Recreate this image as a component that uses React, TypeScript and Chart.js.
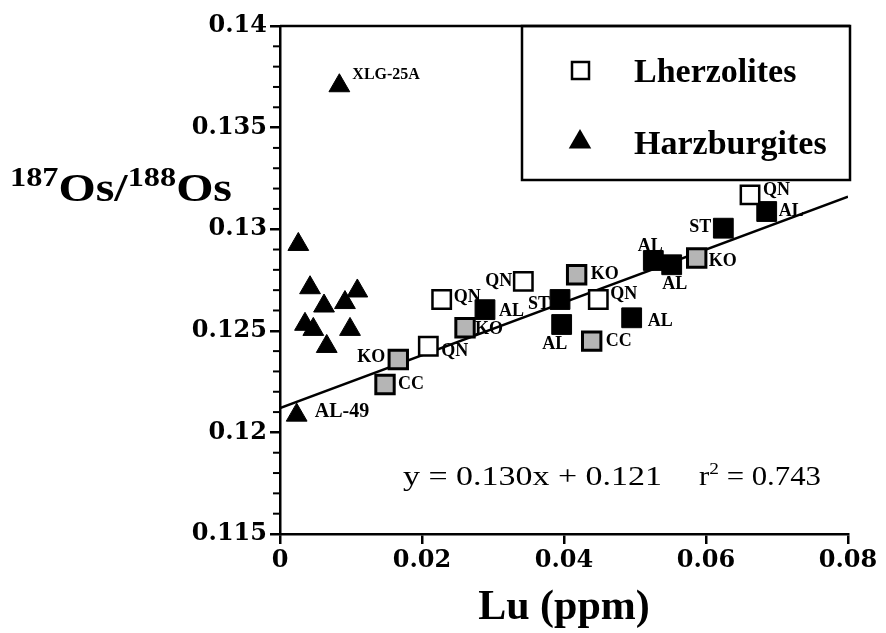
import { useEffect, useRef } from 'react';
import { Chart, registerables } from 'chart.js';

Chart.register(...registerables);

// ---- data ----
// Lherzolites (open squares, this study)
const lherzX = [0.02089, 0.02277, 0.03427, 0.04483, 0.0662];
const lherzY = [0.12424, 0.12654, 0.12743, 0.12654, 0.13169];
const lherzLabels = ['QN', 'QN', 'QN', 'QN', 'QN'];

// Black filled squares
const blackX = [0.02887, 0.03944, 0.03967, 0.04953, 0.05258, 0.05517, 0.06244, 0.06855];
const blackY = [0.12604, 0.12654, 0.12531, 0.12564, 0.12846, 0.12825, 0.13005, 0.13087];
const blackLabels = ['AL', 'ST', 'AL', 'AL', 'AL', 'AL', 'ST', 'AL'];

// Grey stippled squares
const greyX = [0.01666, 0.01479, 0.02606, 0.04178, 0.0439, 0.05869];
const greyY = [0.12359, 0.12236, 0.12515, 0.12776, 0.12449, 0.12858];
const greyLabels = ['KO', 'CC', 'KO', 'KO', 'CC', 'KO'];

// Harzburgites (filled triangles)
const harzX = [0.00836, 0.00258, 0.00423, 0.0062, 0.00915, 0.01089, 0.00352, 0.00469, 0.00986, 0.00658, 0.00235];
const harzY = [0.13706, 0.12925, 0.12712, 0.12622, 0.12639, 0.12696, 0.12532, 0.12507, 0.12507, 0.12423, 0.12085];
const harzLabels = ['XLG-25A', '', '', '', '', '', '', '', '', '', 'AL-49'];

// regression line end points
const fitX = [0, 0.08];
const fitY = [0.1212, 0.1316];

// axis ticks
const xTicks = [0, 0.02, 0.04, 0.06, 0.08];
const yTicks = [0.115, 0.12, 0.125, 0.13, 0.135, 0.14];

// ---- label placement (pixel offsets from the marker, kept apart from the data) ----
type Place = [number, number, CanvasTextAlign];
const lherzPlace: Place[] = [
  [13, 5, 'left'], [12, -2, 'left'], [-11, 0, 'right'], [12, -5, 'left'], [13, -5, 'left'],
];
const blackPlace: Place[] = [
  [14, 2, 'left'], [-10, 5, 'right'], [-7, 20, 'center'], [16, 4, 'left'],
  [-3, -14, 'center'], [3, 20, 'center'], [-12, -1, 'right'], [12, 0, 'left'],
];
const greyPlace: Place[] = [
  [-13, -2, 'right'], [13, 0, 'left'], [10, 2, 'left'], [14, 0, 'left'], [14, 0, 'left'], [12, 3, 'left'],
];
const harzPlace: Place[] = [
  [13, -11, 'left'], [0, 0, 'left'], [0, 0, 'left'], [0, 0, 'left'], [0, 0, 'left'], [0, 0, 'left'],
  [0, 0, 'left'], [0, 0, 'left'], [0, 0, 'left'], [0, 0, 'left'], [18, -3, 'left'],
];

const toPts = (xs: number[], ys: number[]) => xs.map((x, i) => ({ x, y: ys[i] }));

const SERIF = '"Liberation Serif", "Times New Roman", serif';
const TICKFONT = '"DejaVu Serif", serif';

type Run = { t: string; font: string; dy: number };

// draws a sequence of text runs from x0 on baseline y, stretched horizontally to the given width
function drawRuns(ctx: CanvasRenderingContext2D, runs: Run[], x0: number, y: number, width: number) {
  let natural = 0;
  for (const r of runs) {
    ctx.font = r.font;
    natural += ctx.measureText(r.t).width;
  }
  const sx = width / natural;
  ctx.save();
  ctx.translate(x0, y);
  ctx.scale(sx, 1);
  let x = 0;
  for (const r of runs) {
    ctx.font = r.font;
    ctx.fillText(r.t, x, r.dy);
    x += ctx.measureText(r.t).width;
  }
  ctx.restore();
}

const labelsPlugin = {
  id: 'pointLabels',
  afterDatasetsDraw(chart: any) {
    const ctx = chart.ctx as CanvasRenderingContext2D;
    const sets: { idx: number; labels: string[]; place: Place[]; size: number }[] = [
      { idx: 1, labels: lherzLabels, place: lherzPlace, size: 18 },
      { idx: 2, labels: blackLabels, place: blackPlace, size: 18 },
      { idx: 3, labels: greyLabels, place: greyPlace, size: 18 },
      { idx: 4, labels: harzLabels, place: harzPlace, size: 17 },
    ];
    ctx.save();
    ctx.fillStyle = '#000';
    ctx.textBaseline = 'middle';
    for (const s of sets) {
      const meta = chart.getDatasetMeta(s.idx);
      meta.data.forEach((el: any, i: number) => {
        const t = s.labels[i];
        if (!t) return;
        const [dx, dy, al] = s.place[i];
        const size = t === 'AL-49' ? 20 : t === 'XLG-25A' ? 16 : s.size;
        ctx.font = `bold ${size}px ${SERIF}`;
        ctx.textAlign = al;
        ctx.fillText(t, el.x + dx, el.y + dy);
      });
    }
    ctx.restore();
  },
};

const decorPlugin = {
  id: 'decor',
  afterDraw(chart: any) {
    const ctx = chart.ctx as CanvasRenderingContext2D;
    const { left, top, right } = chart.chartArea;
    const yScale = chart.scales.y;
    ctx.save();
    ctx.strokeStyle = '#000';
    ctx.fillStyle = '#000';
    // minor y ticks
    ctx.lineWidth = 2;
    for (let i = 115; i <= 140; i++) {
      if (i % 5 === 0) continue;
      const py = yScale.getPixelForValue(i / 1000);
      ctx.beginPath();
      ctx.moveTo(left - 7, py);
      ctx.lineTo(left + 1, py);
      ctx.stroke();
    }
    // top frame line
    ctx.lineWidth = 2.5;
    ctx.beginPath();
    ctx.moveTo(left, top);
    ctx.lineTo(right + 2, top);
    ctx.stroke();

    // legend box
    const bx = 522, by = top, bw = right + 2 - 522, bh = 180 - top;
    ctx.strokeRect(bx, by, bw, bh);
    // open square marker
    ctx.lineWidth = 2.5;
    ctx.strokeRect(572, 62, 17, 17);
    // triangle marker
    const tx = 580, ty = 142, r = 13;
    ctx.beginPath();
    ctx.moveTo(tx, ty - r);
    ctx.lineTo(tx + r * 0.866, ty + r / 2);
    ctx.lineTo(tx - r * 0.866, ty + r / 2);
    ctx.closePath();
    ctx.fill();
    ctx.font = `bold 34px ${SERIF}`;
    ctx.textAlign = 'left';
    ctx.textBaseline = 'alphabetic';
    ctx.fillText('Lherzolites', 634, 82);
    ctx.fillText('Harzburgites', 634, 154);

    // y-axis title with superscripts
    const big = `bold 40px ${SERIF}`;
    const sup = `bold 27px ${SERIF}`;
    drawRuns(
      ctx,
      [
        { t: '187', font: sup, dy: -15 },
        { t: 'Os/', font: big, dy: 0 },
        { t: '188', font: sup, dy: -15 },
        { t: 'Os', font: big, dy: 0 },
      ],
      10,
      201,
      222,
    );

    // regression equation
    const reg = `27px ${SERIF}`;
    const regSup = `17px ${SERIF}`;
    drawRuns(ctx, [{ t: 'y = 0.130x + 0.121', font: reg, dy: 0 }], 403, 485, 259);
    drawRuns(
      ctx,
      [
        { t: 'r', font: reg, dy: 0 },
        { t: '2', font: regSup, dy: -11 },
        { t: ' = 0.743', font: reg, dy: 0 },
      ],
      699,
      485,
      122,
    );

    ctx.restore();
  },
};

export default function App() {
  const ref = useRef<HTMLCanvasElement | null>(null);

  useEffect(() => {
    if (!ref.current) return;
    const chart = new Chart(ref.current, {
      type: 'scatter',
      data: {
        datasets: [
          {
            type: 'line',
            label: 'fit',
            data: toPts(fitX, fitY),
            borderColor: '#000',
            borderWidth: 2.5,
            pointRadius: 0,
            fill: false,
            order: 10,
          } as any,
          {
            label: 'Lherzolites',
            data: toPts(lherzX, lherzY),
            pointStyle: 'rect',
            pointRadius: 13,
            backgroundColor: '#fff',
            borderColor: '#000',
            borderWidth: 2.5,
            order: 1,
          },
          {
            label: 'black',
            data: toPts(blackX, blackY),
            pointStyle: 'rect',
            pointRadius: 14,
            backgroundColor: '#000',
            borderColor: '#000',
            borderWidth: 1,
            order: 1,
          },
          {
            label: 'grey',
            data: toPts(greyX, greyY),
            pointStyle: 'rect',
            pointRadius: 13,
            backgroundColor: '#b5b5b5',
            borderColor: '#000',
            borderWidth: 3,
            order: 1,
          },
          {
            label: 'Harzburgites',
            data: toPts(harzX, harzY),
            pointStyle: 'triangle',
            pointRadius: 12,
            backgroundColor: '#000',
            borderColor: '#000',
            borderWidth: 1,
            order: 1,
          },
        ],
      },
      options: {
        animation: false,
        responsive: false,
        devicePixelRatio: 1,
        layout: { padding: { left: 0, top: 26, right: 38, bottom: 0 } },
        plugins: {
          legend: { display: false },
          tooltip: { enabled: false },
        },
        scales: {
          x: {
            type: 'linear',
            min: 0,
            max: 0.08,
            afterBuildTicks: (s: any) => { s.ticks = xTicks.map((v) => ({ value: v })); },
            afterFit: (s: any) => { s.height = 99; },
            ticks: {
              color: '#000',
              padding: 2,
              font: { family: TICKFONT, weight: 'bold', size: 24 },
              callback: (v: any) => (v === 0 ? '0' : String(+Number(v).toFixed(2))),
            },
            grid: { display: true, drawOnChartArea: false, drawTicks: true, tickLength: 10, color: '#000', lineWidth: 2.5 },
            border: { display: true, color: '#000', width: 2.5 },
            title: {
              display: true,
              text: 'Lu (ppm)',
              color: '#000',
              font: { family: SERIF, weight: 'bold', size: 42 },
              padding: { top: 4, bottom: 0 },
            },
          },
          y: {
            type: 'linear',
            min: 0.115,
            max: 0.14,
            afterBuildTicks: (s: any) => { s.ticks = yTicks.map((v) => ({ value: v })); },
            afterFit: (s: any) => { s.width = 280; },
            ticks: {
              color: '#000',
              padding: 3,
              font: { family: TICKFONT, weight: 'bold', size: 24 },
              callback: (v: any) => String(+Number(v).toFixed(3)),
            },
            grid: { display: true, drawOnChartArea: false, drawTicks: true, tickLength: 10, color: '#000', lineWidth: 2.5 },
            border: { display: true, color: '#000', width: 2.5 },
          },
        },
      },
      plugins: [labelsPlugin, decorPlugin],
    });
    return () => chart.destroy();
  }, []);

  return (
    <div style={{ position: 'fixed', left: 0, top: 0, width: 886, height: 633, background: '#fff' }}>
      <canvas ref={ref} width={886} height={633} style={{ width: 886, height: 633 }} />
    </div>
  );
}
